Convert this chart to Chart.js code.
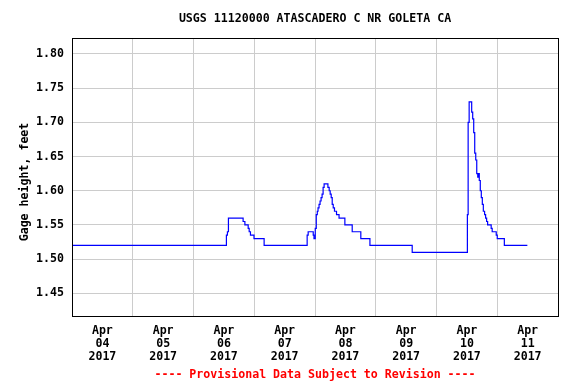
<!DOCTYPE html>
<html>
<head>
<meta charset="utf-8">
<script src="https://cdn.jsdelivr.net/npm/chart.js@4/dist/chart.umd.min.js"></script>
<style>
  html, body { margin: 0; padding: 0; background: #fff; }
  #wrap { width: 576px; height: 384px; }
</style>
</head>
<body>
<div id="wrap"><canvas id="chart" width="576" height="384"></canvas></div>
<script>
// hours since Apr 04 2017 00:00, gage height in feet (step data)
const hours = [0, 61.0, 61.4, 61.8, 67.6, 68.3, 69.6, 70.0, 70.5, 71.9, 75.9,
  92.9, 93.3, 95.3, 95.6, 96.1, 96.5, 96.9, 97.2, 97.6, 98.0, 98.4, 98.8, 99.2, 99.6,
  101.1, 101.6, 102.0, 102.4, 102.8, 103.2, 103.7, 104.5, 105.5, 107.8, 110.7, 114.1, 117.7,
  134.4, 156.2, 156.5, 156.9, 157.9, 158.3, 158.7, 159.1, 159.5, 159.9, 160.3, 160.5, 160.9,
  161.3, 161.7, 162.1, 162.5, 163.0, 163.4, 163.8, 164.2, 165.6, 166.0, 167.6, 168.0, 170.8, 179.9];
const heights = [1.52, 1.535, 1.54, 1.56, 1.555, 1.55, 1.545, 1.54, 1.535, 1.53, 1.52,
  1.535, 1.54, 1.535, 1.53, 1.545, 1.565, 1.57, 1.575, 1.58, 1.585, 1.59, 1.595, 1.605, 1.61,
  1.605, 1.60, 1.595, 1.59, 1.58, 1.575, 1.57, 1.565, 1.56, 1.55, 1.54, 1.53, 1.52,
  1.51, 1.565, 1.70, 1.73, 1.715, 1.705, 1.685, 1.655, 1.645, 1.625, 1.62, 1.625, 1.615,
  1.60, 1.59, 1.58, 1.57, 1.565, 1.56, 1.555, 1.55, 1.545, 1.54, 1.535, 1.53, 1.52, 1.52];
const dayLabels = ['04', '05', '06', '07', '08', '09', '10', '11'];
const yTicks = [1.45, 1.50, 1.55, 1.60, 1.65, 1.70, 1.75, 1.80];
const yMin = 1.4168, yMax = 1.8234;
const titleText = 'USGS 11120000 ATASCADERO C NR GOLETA CA';
const footText = '---- Provisional Data Subject to Revision ----';
const yTitle = 'Gage height, feet';

const FONT = 'DejaVu Sans Mono';
const font = {family: FONT, size: 11.6, weight: 'bold'};

// frame round the plot, title, footer and rotated y title
const extras = {
  id: 'extras',
  afterDraw(c) {
    const a = c.chartArea, ctx = c.ctx;
    const cx = (a.left + a.right) / 2;
    ctx.save();
    ctx.strokeStyle = '#000';
    ctx.lineWidth = 1;
    ctx.strokeRect(Math.round(a.left) + 0.5, Math.round(a.top) + 0.5,
      Math.round(a.right - a.left), Math.round(a.bottom - a.top));
    ctx.font = 'bold 11.6px "' + FONT + '"';
    ctx.textAlign = 'center';
    ctx.textBaseline = 'middle';
    ctx.fillStyle = '#000';
    ctx.fillText(titleText, cx, 19);
    ctx.fillStyle = '#ff0000';
    ctx.fillText(footText, cx, 375);
    ctx.fillStyle = '#000';
    ctx.translate(25, 182);
    ctx.rotate(-Math.PI / 2);
    ctx.fillText(yTitle, 0, 0);
    ctx.restore();
  }
};

const points = hours.map((h, i) => ({x: h, y: heights[i]}));

new Chart(document.getElementById('chart'), {
  type: 'line',
  data: {datasets: [{data: points, borderColor: '#0000ff', borderWidth: 1.2,
    pointRadius: 0, stepped: 'before', tension: 0, fill: false}]},
  options: {
    responsive: false, animation: false, devicePixelRatio: 1,
    layout: {padding: {left: 0, right: 18, top: 38, bottom: 20}},
    plugins: {legend: {display: false}, tooltip: {enabled: false}},
    scales: {
      x: {
        type: 'linear', min: 0, max: 192,
        afterBuildTicks: s => { const t = []; for (let h = 0; h <= 192; h += 12) t.push({value: h}); s.ticks = t; },
        afterFit: s => { s.height = 48; },
        grid: {drawTicks: false, color: c => (c.tick && c.tick.value % 24 === 0) ? '#cccccc' : 'rgba(0,0,0,0)'},
        border: {display: false},
        ticks: {autoSkip: false, maxRotation: 0, padding: 9, color: '#000',
          font: {family: FONT, size: 11.6, weight: 'bold', lineHeight: 1.09},
          callback: v => (v % 24 === 12) ? ['Apr', dayLabels[(v - 12) / 24], '2017'] : ''}
      },
      y: {
        min: yMin, max: yMax,
        afterBuildTicks: s => { s.ticks = yTicks.map(v => ({value: v})); },
        afterFit: s => { s.width = 72; },
        grid: {drawTicks: false, color: '#cccccc'},
        border: {display: false},
        ticks: {padding: 8, color: '#000', font: font, callback: v => v.toFixed(2)}
      }
    }
  },
  plugins: [extras]
});
</script>
</body>
</html>
